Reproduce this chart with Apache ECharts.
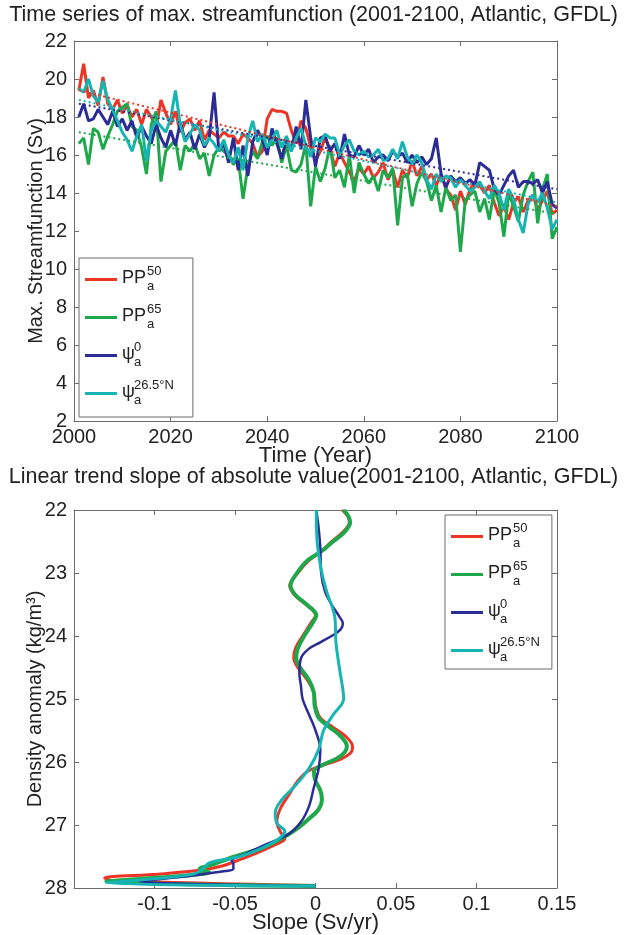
<!DOCTYPE html>
<html>
<head>
<meta charset="utf-8">
<script src="https://cdn.jsdelivr.net/npm/echarts/dist/echarts.min.js"></script>
<style>
  html, body { margin: 0; padding: 0; background: #ffffff; }
  #chart { width: 627px; height: 935px; }
</style>
</head>
<body>
<div id="chart"></div>
<script>
// ---- Time series of maximum streamfunction, 2001-2100 (Sv) ----
const years = [];
for (let y = 2001; y <= 2100; y++) years.push(y);

const pp50Series = [
  19.4, 20.8, 19.0, 19.4, 18.6, 20.1, 18.7, 18.4, 18.9, 18.2,
  18.6, 18.0, 18.4, 17.6, 18.4, 18.0, 17.4, 18.9, 18.2, 17.6,
  18.3, 17.2, 17.7, 17.9, 17.3, 17.8, 16.8, 17.3, 17.1, 16.9,
  17.2, 17.0, 17.0, 16.6, 17.1, 16.9, 16.6, 15.9, 16.2, 17.9,
  18.4, 18.3, 18.3, 18.2, 17.3, 16.6, 17.8, 17.4, 16.4, 15.7,
  16.2, 16.9, 16.3, 15.4, 16.1, 15.6, 15.1, 14.6, 15.3, 15.0,
  15.4, 14.8, 15.1, 15.6, 14.7, 15.2, 14.3, 15.2, 14.8, 15.7,
  14.9, 15.4, 14.7, 15.0, 14.4, 15.0, 14.2, 13.9, 13.1, 14.1,
  13.4, 14.2, 14.6, 14.4, 14.0, 14.4, 13.5, 12.8, 13.3, 12.6,
  13.5, 13.8, 13.0, 13.6, 13.9, 13.1, 13.6, 14.1, 12.9, 13.1
];
const pp65Series = [
  16.6, 16.9, 15.5, 17.4, 17.2, 16.3, 17.0, 17.6, 18.3, 18.5,
  18.7, 17.5, 17.3, 16.4, 15.0, 17.6, 18.3, 14.6, 16.2, 16.5,
  16.8, 15.2, 16.5, 16.2, 16.6, 15.8, 16.1, 14.9, 16.0, 16.4,
  16.2, 16.0, 15.5, 15.8, 13.7, 15.4, 16.2, 15.8, 16.7, 17.0,
  16.5, 16.9, 15.6, 16.5, 15.2, 15.1, 15.5, 16.6, 13.3, 15.4,
  14.6, 15.3, 16.5, 14.8, 15.2, 14.3, 16.0, 14.0, 15.6, 15.0,
  14.5, 14.9, 14.1, 15.2, 14.8, 15.3, 12.3, 14.8, 15.0, 13.3,
  14.5, 15.1, 14.6, 13.6, 14.4, 13.0, 14.3, 13.6, 13.9, 10.9,
  13.6, 13.9, 14.1, 13.0, 13.7, 12.6, 14.2, 13.5, 11.7, 14.0,
  13.3, 12.5, 13.9, 14.6, 15.1, 12.4, 14.2, 15.0, 11.6, 12.2
];
const psi0Series = [
  18.0, 18.7, 17.8, 17.9, 18.4, 18.0, 17.6, 18.3, 17.5, 17.9,
  17.3, 17.8, 16.9, 17.5, 17.0, 16.6, 17.6, 16.9, 16.4, 17.3,
  16.5, 17.7, 16.8, 17.2, 16.3, 17.1, 16.4, 16.9, 19.3, 16.2,
  16.6, 15.6, 16.9, 15.2, 16.5, 14.9, 16.7, 17.3, 16.8, 16.0,
  17.4, 16.6, 15.8, 16.9, 16.2, 17.5, 16.3, 18.9, 16.9, 15.4,
  16.9, 17.0, 16.2, 16.6, 15.8, 17.1, 16.0, 15.9, 16.5, 16.0,
  16.3, 15.6, 15.9, 16.0, 15.7, 16.2, 15.9, 16.1, 15.6, 16.0,
  15.6, 15.9, 15.5, 15.8, 16.9, 15.0, 14.3, 14.9, 14.6, 14.8,
  14.5, 14.7, 14.4, 15.6, 15.4, 15.2, 14.2, 13.9, 14.4, 14.9,
  15.2, 14.3, 14.6, 14.6, 14.5, 14.7, 14.0, 14.6, 13.4, 13.2
];
const psi265Series = [
  19.5, 19.3, 20.0, 19.1, 18.8, 19.9, 18.9, 18.4, 17.8, 17.2,
  16.8, 16.2, 17.0, 17.6, 15.7, 17.3, 17.8, 17.5, 17.2, 17.9,
  19.4, 17.6, 16.7, 17.1, 17.6, 17.3, 16.5, 16.9, 16.6, 16.2,
  16.8, 16.0, 15.6, 16.4, 15.2, 16.9, 17.8, 16.7, 17.1, 16.4,
  16.8, 17.3, 16.4, 17.0, 16.2, 16.9, 17.4, 16.5, 15.9, 16.9,
  16.7, 17.1, 16.9, 16.9, 16.0, 16.5, 16.8, 16.2, 16.0, 16.2,
  15.9, 16.0, 16.3, 15.7, 15.8, 16.3, 15.8, 16.7, 15.9, 15.5,
  16.0, 15.6, 14.7, 14.2, 15.0, 14.6, 14.9, 14.8, 14.3, 14.7,
  14.4, 14.1, 14.3, 14.6, 14.1, 13.7, 14.4, 14.0, 13.1, 14.2,
  13.7, 12.6, 11.9, 13.4, 13.9, 13.5, 14.0, 13.2, 12.1, 12.6
];

// Linear trend lines: values at the first and last year
const trendYears = [2001, 2100];
const pp50Trend = [19.4, 13.3];
const pp65Trend = [17.2, 12.9];
const psi0Trend = [18.7, 14.2];
const psi265Trend = [18.9, 13.5];

// ---- Trend slope profiles vs density anomaly (kg/m3) ----
const pp50Density = [22.0, 22.1, 22.2, 22.35, 22.5, 22.65, 22.8, 23.0, 23.2, 23.35, 23.5, 23.67, 23.8, 24.0, 24.2, 24.35, 24.5, 24.7, 24.9, 25.1, 25.3, 25.45, 25.6, 25.75, 25.85, 25.95, 26.05, 26.15, 26.3, 26.5, 26.75, 26.95, 27.1, 27.22, 27.3, 27.45, 27.55, 27.65, 27.72, 27.78, 27.84, 27.88, 27.96];
const pp50Slope = [0.0165, 0.020, 0.021, 0.017, 0.010, 0.004, -0.004, -0.011, -0.016, -0.013, -0.006, 0.000, -0.003, -0.008, -0.0125, -0.0135, -0.011, -0.005, -0.001, 0.000, 0.003, 0.011, 0.019, 0.023, 0.022, 0.016, 0.005, -0.005, -0.011, -0.016, -0.022, -0.024, -0.022, -0.019, -0.024, -0.037, -0.047, -0.058, -0.072, -0.098, -0.131, -0.127, 0.000];

const pp65Density = [22.0, 22.1, 22.2, 22.35, 22.5, 22.65, 22.8, 23.0, 23.2, 23.35, 23.5, 23.67, 23.8, 24.0, 24.2, 24.35, 24.5, 24.7, 24.9, 25.1, 25.3, 25.45, 25.6, 25.75, 25.85, 25.95, 26.05, 26.15, 26.3, 26.45, 26.6, 26.75, 26.9, 27.05, 27.2, 27.35, 27.5, 27.62, 27.7, 27.75, 27.8, 27.86, 27.9, 27.97];
const pp65Slope = [0.0175, 0.0205, 0.0215, 0.018, 0.011, 0.004, -0.005, -0.0115, -0.0155, -0.0125, -0.0055, 0.0005, -0.002, -0.007, -0.011, -0.012, -0.0095, -0.004, -0.001, -0.0005, 0.002, 0.009, 0.016, 0.0195, 0.018, 0.013, 0.004, -0.001, 0.000, 0.003, 0.004, 0.002, -0.004, -0.011, -0.020, -0.032, -0.050, -0.063, -0.072, -0.066, -0.080, -0.112, -0.130, 0.000];

const psi0Density = [22.0, 22.3, 22.6, 23.0, 23.3, 23.5, 23.7, 23.8, 23.9, 24.0, 24.1, 24.2, 24.35, 24.6, 24.8, 25.0, 25.25, 25.5, 25.8, 26.1, 26.4, 26.7, 26.95, 27.15, 27.3, 27.45, 27.57, 27.62, 27.7, 27.73, 27.8, 27.86, 27.9, 27.97];
const psi0Slope = [0.0005, 0.002, 0.003, 0.0035, 0.006, 0.010, 0.015, 0.017, 0.0155, 0.010, 0.003, -0.004, -0.009, -0.010, -0.009, -0.008, -0.004, 0.000, 0.003, 0.002, -0.001, -0.004, -0.009, -0.017, -0.030, -0.043, -0.052, -0.051, -0.051, -0.056, -0.076, -0.097, -0.109, 0.000];

const psi265Density = [22.0, 22.5, 23.0, 23.3, 23.7, 24.1, 24.5, 24.85, 25.0, 25.25, 25.5, 25.8, 26.1, 26.4, 26.6, 26.8, 26.97, 27.1, 27.3, 27.5, 27.6, 27.7, 27.78, 27.85, 27.92, 27.97];
const psi265Slope = [0.0005, 0.001, 0.004, 0.007, 0.012, 0.0127, 0.0148, 0.017, 0.0175, 0.011, 0.005, 0.002, -0.004, -0.0135, -0.021, -0.025, -0.024, -0.019, -0.028, -0.047, -0.066, -0.070, -0.076, -0.099, -0.130, 0.000];

// ---- Appearance ----
const FONT = 'Liberation Sans, Arial, Helvetica, sans-serif';
const TEXT = '#222222';
const AXIS = '#6b6b6b';
const COLORS = { pp50: '#ec3426', pp65: '#1fa84b', psi0: '#2c2c96', psi265: '#17b4b4' };
const NAMES = { pp50: 'PP50a', pp65: 'PP65a', psi0: 'psi0a', psi265: 'psi26.5Na' };

const pairs = (xs, ys) => xs.map((x, i) => [x, ys[i]]);

const legendRich = {
  b:     { fontFamily: FONT, fontSize: 18, color: TEXT, lineHeight: 10 },
  supPP: { fontFamily: FONT, fontSize: 13, color: TEXT, lineHeight: 4, padding: [0, 0, 0, 25] },
  subPP: { fontFamily: FONT, fontSize: 13, color: TEXT, lineHeight: 6, padding: [0, 0, 0, 25] },
  supPs: { fontFamily: FONT, fontSize: 13, color: TEXT, lineHeight: 4, padding: [0, 0, 0, 12] },
  subPs: { fontFamily: FONT, fontSize: 13, color: TEXT, lineHeight: 6, padding: [0, 0, 0, 12] }
};
const legendText = {
  [NAMES.pp50]: '{supPP|50}\n{b|PP}\n{subPP|a}',
  [NAMES.pp65]: '{supPP|65}\n{b|PP}\n{subPP|a}',
  [NAMES.psi0]: '{supPs|0}\n{b|\u03C8}\n{subPs|a}',
  [NAMES.psi265]: '{supPs|26.5\u00B0N}\n{b|\u03C8}\n{subPs|a}'
};

function legendAt(left, top, padRight, padBottom) {
  return {
    orient: 'vertical',
    left: left, top: top,
    padding: [7, padRight, padBottom, 6],
    itemGap: 10,
    itemWidth: 32, itemHeight: 3,
    icon: 'rect',
    borderColor: AXIS, borderWidth: 1,
    backgroundColor: '#ffffff',
    selectedMode: false,
    data: [NAMES.pp50, NAMES.pp65, NAMES.psi0, NAMES.psi265],
    formatter: name => legendText[name],
    textStyle: { rich: legendRich }
  };
}

const tickLabel = { fontFamily: FONT, fontSize: 20, color: TEXT };
const xNameStyle = { fontFamily: FONT, fontSize: 22, color: TEXT };
const yNameStyle = { fontFamily: FONT, fontSize: 20, color: TEXT };
const titleStyle = { fontFamily: FONT, fontSize: 21.5, fontWeight: 'normal', color: TEXT };

function edgeAxis(extra) {
  return Object.assign({
    type: 'value',
    axisLine: { show: true, onZero: false, lineStyle: { color: AXIS, width: 1 } },
    axisTick: { show: true, inside: true, length: 5, lineStyle: { color: AXIS } },
    splitLine: { show: false },
    axisLabel: { show: false },
    nameMoveOverlap: false
  }, extra);
}

const fmtSlope = v => Math.abs(v + 0.15) < 1e-9 ? '' : String(parseFloat(v.toFixed(2)));

const option = {
  animation: false,
  backgroundColor: '#ffffff',
  title: [
    { text: 'Time series of max. streamfunction (2001-2100, Atlantic, GFDL)', left: 'center', top: 4, padding: 0, textStyle: titleStyle },
    { text: 'Linear trend slope of absolute value(2001-2100, Atlantic, GFDL)', left: 'center', top: 466, padding: 0, textStyle: titleStyle }
  ],
  legend: [legendAt(79, 258, 19, 10), legendAt(445, 515, 12, 5)],
  grid: [
    { left: 74, top: 41, width: 483, height: 380 },
    { left: 74, top: 510, width: 483, height: 378 }
  ],
  xAxis: [
    edgeAxis({ gridIndex: 0, position: 'bottom', min: 2000, max: 2100, interval: 20,
      axisLabel: Object.assign({ show: true, margin: 6, formatter: v => String(v) }, tickLabel),
      name: 'Time (Year)', nameLocation: 'middle', nameGap: 24, nameTextStyle: xNameStyle }),
    edgeAxis({ gridIndex: 0, position: 'top', min: 2000, max: 2100, interval: 20 }),
    edgeAxis({ gridIndex: 1, position: 'bottom', min: -0.15, max: 0.15, interval: 0.05,
      axisLabel: Object.assign({ show: true, margin: 6, formatter: fmtSlope }, tickLabel),
      name: 'Slope (Sv/yr)', nameLocation: 'middle', nameGap: 24, nameTextStyle: xNameStyle }),
    edgeAxis({ gridIndex: 1, position: 'top', min: -0.15, max: 0.15, interval: 0.05 })
  ],
  yAxis: [
    edgeAxis({ gridIndex: 0, position: 'left', min: 2, max: 22, interval: 2,
      axisLabel: Object.assign({ show: true, margin: 7 }, tickLabel),
      name: 'Max. Streamfunction (Sv)', nameLocation: 'middle', nameGap: 28, nameTextStyle: yNameStyle }),
    edgeAxis({ gridIndex: 0, position: 'right', min: 2, max: 22, interval: 2 }),
    edgeAxis({ gridIndex: 1, position: 'left', min: 22, max: 28, interval: 1, inverse: true,
      axisLabel: Object.assign({ show: true, margin: 7 }, tickLabel),
      name: 'Density anomaly (kg/m\u00B3)', nameLocation: 'middle', nameGap: 29, nameTextStyle: yNameStyle }),
    edgeAxis({ gridIndex: 1, position: 'right', min: 22, max: 28, interval: 1, inverse: true })
  ],
  series: []
};

function timeLine(key, values) {
  return { name: NAMES[key], type: 'line', xAxisIndex: 0, yAxisIndex: 0,
    data: pairs(years, values), showSymbol: false, symbol: 'none',
    lineStyle: { color: COLORS[key], width: 3 }, itemStyle: { color: COLORS[key] } };
}
function trendLine(key, values) {
  return { name: NAMES[key] + ' trend', type: 'line', xAxisIndex: 0, yAxisIndex: 0,
    data: pairs(trendYears, values), showSymbol: false, symbol: 'none',
    lineStyle: { color: COLORS[key], width: 2, type: [2, 3] } };
}
function profileLine(key, slopes, densities, width) {
  return { name: NAMES[key], type: 'line', xAxisIndex: 2, yAxisIndex: 2,
    data: pairs(slopes, densities), showSymbol: false, symbol: 'none', smooth: 0.35,
    lineStyle: { color: COLORS[key], width: width }, itemStyle: { color: COLORS[key] } };
}

option.series.push(
  timeLine('pp50', pp50Series),
  timeLine('pp65', pp65Series),
  timeLine('psi0', psi0Series),
  timeLine('psi265', psi265Series),
  trendLine('pp50', pp50Trend),
  trendLine('pp65', pp65Trend),
  trendLine('psi0', psi0Trend),
  trendLine('psi265', psi265Trend),
  profileLine('pp50', pp50Slope, pp50Density, 3),
  profileLine('pp65', pp65Slope, pp65Density, 4),
  profileLine('psi0', psi0Slope, psi0Density, 2.5),
  profileLine('psi265', psi265Slope, psi265Density, 3)
);

const chart = echarts.init(document.getElementById('chart'), null, { renderer: 'canvas' });
chart.setOption(option);
</script>
</body>
</html>
